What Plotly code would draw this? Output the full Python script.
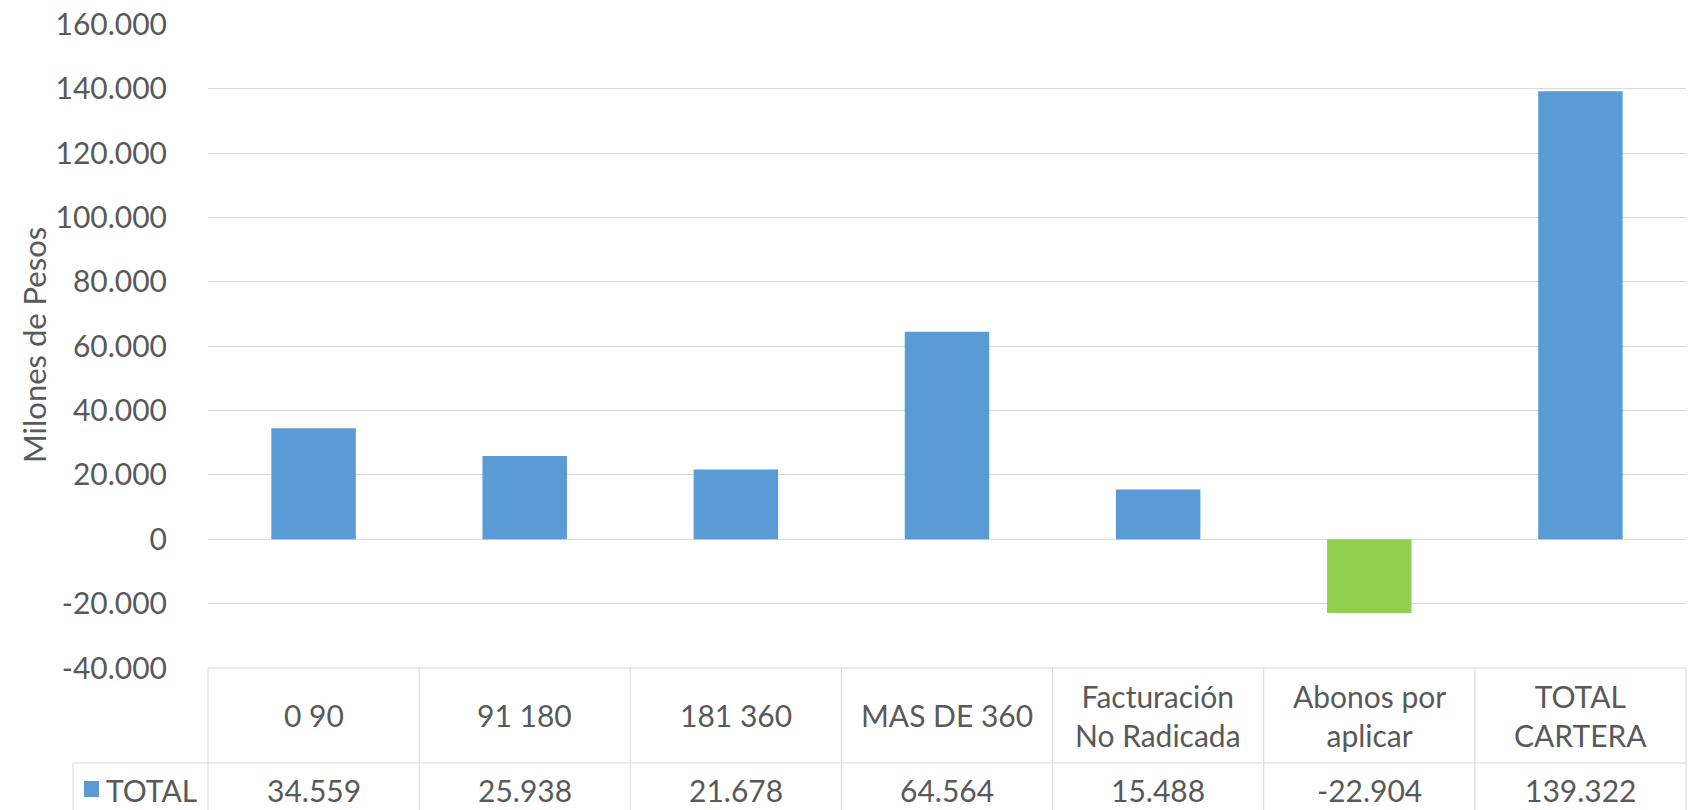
import plotly.graph_objects as go

categories = ["0 90", "91 180", "181 360", "MAS DE 360", "Facturación<br>No Radicada", "Abonos por<br>aplicar", "TOTAL<br>CARTERA"]
values = [34559, 25938, 21678, 64564, 15488, -22904, 139322]
value_labels = ["34.559", "25.938", "21.678", "64.564", "15.488", "-22.904", "139.322"]
series_name = "TOTAL"
tick_vals = [-40000, -20000, 0, 20000, 40000, 60000, 80000, 100000, 120000, 140000, 160000]
tick_text = ["-40.000", "-20.000", "0", "20.000", "40.000", "60.000", "80.000", "100.000", "120.000", "140.000", "160.000"]
y_title = "Milones de Pesos"

BLUE = "#5B9BD5"
GREEN = "#92D050"
TXT = "#595959"
GRID = "#D9D9D9"
FONT = "Lato"
FS = 30

W, H = 1689, 810
L, R, T, B = 208, 3, 24, 142
PW, PH = W - L - R, H - T - B

def px2x(px):
    return (px - L) / PW

def py2y(py):
    return (T + PH - py) / PH

n = len(categories)
xs = list(range(n))
colors = [BLUE if v >= 0 else GREEN for v in values]

fig = go.Figure()
fig.add_trace(go.Bar(x=xs, y=values, marker=dict(color=colors, line=dict(width=0)),
                     width=0.4, name=series_name, showlegend=False, hoverinfo="skip"))

shapes = []
line = dict(color=GRID, width=1)
row_split = py2y(763)
bottom = -0.3
for i in range(n + 1):
    shapes.append(dict(type="line", xref="paper", yref="paper", x0=i / n, x1=i / n,
                       y0=0, y1=bottom, line=line))
leg_left = px2x(73)
shapes.append(dict(type="line", xref="paper", yref="paper", x0=leg_left, x1=leg_left,
                   y0=row_split, y1=bottom, line=line))
shapes.append(dict(type="line", xref="paper", yref="paper", x0=leg_left, x1=1,
                   y0=row_split, y1=row_split, line=line))
shapes.append(dict(type="line", xref="paper", yref="paper", x0=0, x1=1,
                   y0=0, y1=0, line=line))
shapes.append(dict(type="rect", xref="paper", yref="paper", x0=px2x(84), x1=px2x(99),
                   y0=py2y(797), y1=py2y(781), fillcolor=BLUE, line=dict(width=0)))

annotations = []
cat_y = py2y(715)
val_y = py2y(790)
for i, c in enumerate(categories):
    annotations.append(dict(x=i, y=cat_y, xref="x", yref="paper", text=c, showarrow=False,
                            xanchor="center", yanchor="middle",
                            font=dict(family=FONT, size=FS, color=TXT)))
for i, v in enumerate(value_labels):
    annotations.append(dict(x=i, y=val_y, xref="x", yref="paper", text=v, showarrow=False,
                            xanchor="center", yanchor="middle",
                            font=dict(family=FONT, size=FS, color=TXT)))
annotations.append(dict(x=px2x(104), y=val_y, xref="paper", yref="paper", text=series_name,
                        showarrow=False, xanchor="left", yanchor="middle",
                        font=dict(family=FONT, size=FS, color=TXT)))
annotations.append(dict(x=px2x(34), y=py2y(345), xref="paper", yref="paper", text=y_title,
                        showarrow=False, xanchor="center", yanchor="middle", textangle=-90,
                        font=dict(family=FONT, size=31, color=TXT)))

fig.update_layout(
    width=W, height=H, autosize=False,
    margin=dict(l=L, r=R, t=T, b=B, pad=0),
    paper_bgcolor="white", plot_bgcolor="white",
    font=dict(family=FONT, size=FS, color=TXT),
    shapes=shapes, annotations=annotations,
    xaxis=dict(range=[-0.5, n - 0.5], showticklabels=False, showgrid=False,
               zeroline=False, showline=False, fixedrange=True),
    yaxis=dict(range=[-40000, 160200], tickvals=tick_vals, ticktext=tick_text,
               showgrid=True, gridcolor=GRID, gridwidth=1, zeroline=True,
               zerolinecolor=GRID, zerolinewidth=1, showline=False,
               ticks="", ticklabelstandoff=40, ticklabeloverflow="allow",
               automargin=False, fixedrange=True,
               tickfont=dict(family=FONT, size=FS, color=TXT)),
    bargap=0.6,
)

fig.write_html("out.html", config={"displayModeBar": False},
               post_script="document.body.style.margin='0';document.body.style.overflow='hidden';")
